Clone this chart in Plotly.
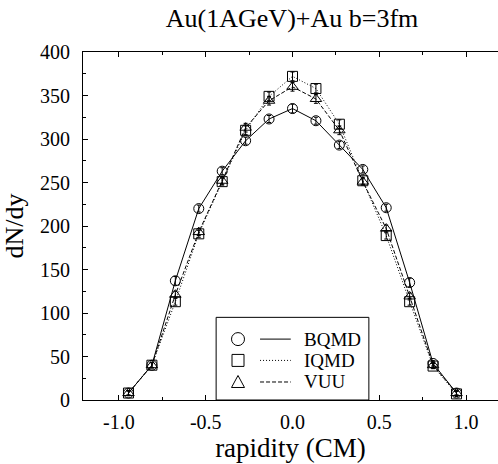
import plotly.graph_objects as go

rapidity = [-0.945, -0.81, -0.675, -0.54, -0.405, -0.27, -0.135, 0.0,
            0.135, 0.27, 0.405, 0.54, 0.675, 0.81, 0.945]
bqmd = [8, 40, 137, 220, 263, 298, 323, 335, 321, 293, 265, 221, 135, 42, 8]
iqmd = [8, 40, 113, 191, 251, 310, 349, 372, 358, 317, 252, 189, 113, 39, 7]
vuu = [8, 40, 121, 193, 252, 313, 344, 360, 346, 310, 251, 197, 119, 40, 8]
err_bqmd = [2, 3, 5, 4, 4, 4, 4, 5, 4, 4, 4, 4, 5, 3, 2]
err_iqmd = [3, 3, 4, 4, 4, 5, 5, 5, 5, 5, 4, 4, 4, 3, 3]
err_vuu = [3, 3, 4, 4, 4, 5, 5, 5, 5, 5, 4, 4, 4, 3, 3]
series_names = ["BQMD", "IQMD", "VUU"]
x_ticks = [-1.0, -0.5, 0.0, 0.5, 1.0]
x_ticklabels = ["-1.0", "-0.5", "0.0", "0.5", "1.0"]
y_ticks = [0, 50, 100, 150, 200, 250, 300, 350, 400]

FONT = "Liberation Serif"
DASHES = ["solid", "1px,2px", "4px,2px"]
fig = go.Figure()

styles = [
    (bqmd, err_bqmd, "circle-open", 10),
    (iqmd, err_iqmd, "square-open", 10),
    (vuu, err_vuu, "triangle-up-open", 10),
]
for name, (vals, errs, sym, ms), dash in zip(series_names, styles, DASHES):
    fig.add_trace(go.Scatter(
        x=rapidity, y=vals, name=name, mode="lines+markers",
        line=dict(color="black", width=1, dash=dash),
        marker=dict(symbol=sym, size=ms, color="black", line=dict(width=1, color="black")),
        error_y=dict(type="data", array=errs, visible=True, color="black", thickness=1, width=2),
        showlegend=False,
    ))

# manual legend
bx0, bx1, by0, by1 = -0.44, 0.44, 0, 95
shapes = [dict(type="rect", xref="x", yref="y", x0=bx0, x1=bx1, y0=by0, y1=by1,
               line=dict(color="black", width=1), fillcolor="white", layer="above")]
rows_y = [70, 45.5, 20.7]
mx = -0.314
lx0, lx1 = -0.187, -0.01
for ry, d in zip(rows_y, DASHES):
    shapes.append(dict(type="line", xref="x", yref="y", x0=lx0, x1=lx1, y0=ry, y1=ry,
                       line=dict(color="black", width=1, dash=d), layer="above"))
shapes.append(dict(type="circle", xref="x", yref="y", xsizemode="pixel", ysizemode="pixel",
                   xanchor=mx, yanchor=rows_y[0], x0=-6.5, x1=6.5, y0=-6.5, y1=6.5,
                   line=dict(color="black", width=1), layer="above"))
shapes.append(dict(type="rect", xref="x", yref="y", xsizemode="pixel", ysizemode="pixel",
                   xanchor=mx, yanchor=rows_y[1], x0=-6, x1=6, y0=-6, y1=6,
                   line=dict(color="black", width=1), layer="above"))
shapes.append(dict(type="path", xref="x", yref="y", xsizemode="pixel", ysizemode="pixel",
                   xanchor=mx, yanchor=rows_y[2], path="M -6.5 -5.5 L 6.5 -5.5 L 0 6.5 Z",
                   line=dict(color="black", width=1), layer="above"))
annotations = []
for ry, nm in zip(rows_y, series_names):
    annotations.append(dict(x=0.055, y=ry, xref="x", yref="y", text=nm, showarrow=False,
                            xanchor="left", yanchor="middle",
                            font=dict(family=FONT, size=19, color="black")))

fig.update_layout(
    template="none",
    width=498, height=464,
    margin=dict(l=83, r=0, t=52, b=64, autoexpand=False),
    plot_bgcolor="white", paper_bgcolor="white",
    title=dict(text="Au(1AGeV)+Au b=3fm", x=0.5865, xanchor="center", y=0.962, yanchor="middle",
               font=dict(family=FONT, size=26, color="black")),
    shapes=shapes, annotations=annotations,
)
fig.update_xaxes(
    range=[-1.207, 1.184], tickvals=x_ticks, ticktext=x_ticklabels, automargin=False,
    showgrid=False, zeroline=False, showline=True, linecolor="black", linewidth=1,
    mirror="ticks", ticks="inside", ticklen=5, tickcolor="black", tickwidth=1,
    minor=dict(dtick=0.25, tick0=0, ticks="inside", ticklen=3, tickcolor="black", showgrid=False),
    tickfont=dict(family=FONT, size=20, color="black"), ticklabelstandoff=4,
    title=dict(text="rapidity (CM)", font=dict(family=FONT, size=27, color="black"), standoff=0),
)
fig.update_yaxes(
    range=[0, 400], tickvals=y_ticks, automargin=False,
    showgrid=False, zeroline=False, showline=True, linecolor="black", linewidth=1,
    ticks="inside", ticklen=5, tickcolor="black", tickwidth=1,
    minor=dict(dtick=25, tick0=0, ticks="inside", ticklen=3, tickcolor="black", showgrid=False),
    tickfont=dict(family=FONT, size=20, color="black"), ticklabelstandoff=8,
    title=dict(text="dN/dy", font=dict(family=FONT, size=26, color="black"), standoff=12),
)
post = (
    "document.body.style.margin='0px';"
    "var s=document.createElement('style');"
    "s.textContent='.js-plotly-plot svg text{font-family:\"Liberation Serif\",serif !important;}';"
    "document.head.appendChild(s);"
)
fig.write_html("out.html", config={"displayModeBar": False}, post_script=post)
